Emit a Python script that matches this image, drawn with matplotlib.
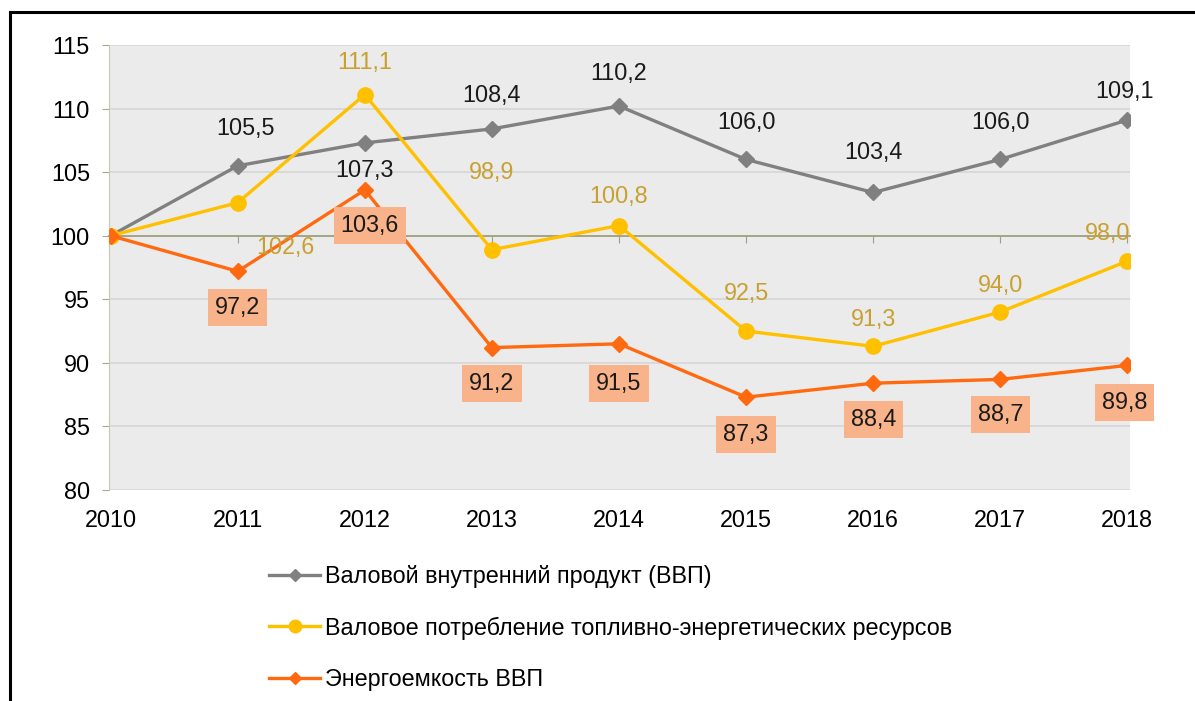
import matplotlib
matplotlib.use("Agg")
import matplotlib.pyplot as plt
from matplotlib.lines import Line2D

plt.rcParams['font.family'] = ['Liberation Sans', 'DejaVu Sans']

# Годы
years = ['2010', '2011', '2012', '2013', '2014', '2015', '2016', '2017', '2018']

# Валовой внутренний продукт (ВВП)
vvp = [100, 105.5, 107.3, 108.4, 110.2, 106.0, 103.4, 106.0, 109.1]

# Валовое потребление топливно-энергетических ресурсов
potr = [100, 102.6, 111.1, 98.9, 100.8, 92.5, 91.3, 94.0, 98.0]

# Энергоемкость ВВП
energ = [100, 97.2, 103.6, 91.2, 91.5, 87.3, 88.4, 88.7, 89.8]

names = ['Валовой внутренний продукт (ВВП)',
         'Валовое потребление топливно-энергетических ресурсов',
         'Энергоемкость ВВП']

fig = plt.figure(figsize=(11.95, 7.01), dpi=100)
ax = fig.add_axes([0.0915, 0.301, 0.854, 0.6348])
ax.set_facecolor('#EBEBEB')

x = list(range(len(years)))

ax.plot(x, vvp, color='#808080', lw=2.4, marker='D', ms=8, zorder=3)
ax.plot(x, potr, color='#FFC000', lw=2.4, marker='o', ms=11, zorder=4)
ax.plot(x, energ, color='#FF6A10', lw=2.4, marker='D', ms=8, zorder=5)

fs = 16.8

def fmt(v):
    return ('%.1f' % v).replace('.', ',')

# подписи: смещения в пикселях (dx, dy)
off_vvp = [None, (8, 37), (0, -28), (0, 33), (0, 33), (0, 37), (0, 40), (0, 37), (-3, 29)]
off_potr = [None, (48, -45), (0, 32), (0, 77), (0, 29), (0, 38), (0, 27), (0, 27), (-20, 28)]
off_energ = [None, (0, -36), (5, -36), (0, -36), (0, -40), (0, -37), (0, -36), (0, -35), (-3, -37)]

for i in x:
    if off_vvp[i]:
        dx, dy = off_vvp[i]
        ax.annotate(fmt(vvp[i]), (i, vvp[i]), xytext=(dx * 0.72, dy * 0.72),
                    textcoords='offset points', ha='center', va='center',
                    fontsize=fs, color='#1A1A1A', zorder=6)
    if off_potr[i]:
        dx, dy = off_potr[i]
        ax.annotate(fmt(potr[i]), (i, potr[i]), xytext=(dx * 0.72, dy * 0.72),
                    textcoords='offset points', ha='center', va='center',
                    fontsize=fs, color='#C8A030', zorder=6)
    if off_energ[i]:
        dx, dy = off_energ[i]
        ax.annotate(fmt(energ[i]), (i, energ[i]), xytext=(dx * 0.72, dy * 0.72),
                    textcoords='offset points', ha='center', va='center',
                    fontsize=fs, color='#1A1A1A', zorder=6,
                    bbox=dict(boxstyle='square,pad=0.3', fc='#F9B38A', ec='none'))

ax.set_xlim(-0.01, 8.02)
ax.set_ylim(80, 115)
ax.set_yticks(range(80, 116, 5))
ax.tick_params(axis='y', labelsize=fs, length=5, color='#A8A890', pad=9)
ax.yaxis.grid(True, color='#D6D6D6', lw=1.2)
ax.set_axisbelow(True)

# ось X проходит через 100
ax.spines['bottom'].set_position(('data', 100))
ax.spines['bottom'].set_color('#A0A080')
ax.spines['bottom'].set_linewidth(1.3)
ax.spines['left'].set_color('#C8C8B0')
ax.spines['top'].set_visible(False)
ax.spines['right'].set_visible(False)
ax.set_xticks(x)
ax.tick_params(axis='x', length=5, color='#A0A080', labelbottom=False)

sec = ax.secondary_xaxis('bottom')
sec.set_xticks(x)
sec.set_xticklabels(years)
sec.tick_params(length=0, labelsize=fs, pad=14)
for s in sec.spines.values():
    s.set_visible(False)

handles = [
    Line2D([], [], color='#808080', lw=2.4, marker='D', ms=6),
    Line2D([], [], color='#FFC000', lw=2.4, marker='o', ms=9),
    Line2D([], [], color='#FF6A10', lw=2.4, marker='D', ms=6),
]
fig.legend(handles, names, loc='upper left', bbox_to_anchor=(248 / 1195, 1 - 544 / 701),
           frameon=False, fontsize=fs, handlelength=2.2, handletextpad=0.2,
           labelspacing=1.22)

# рамка
fig.add_artist(Line2D([10 / 1195, 1], [1 - 12 / 701, 1 - 12 / 701], color='black', lw=2.2))
fig.add_artist(Line2D([10 / 1195, 10 / 1195], [0, 1 - 12 / 701], color='black', lw=2.2))

fig.savefig('out.png', dpi=100)
